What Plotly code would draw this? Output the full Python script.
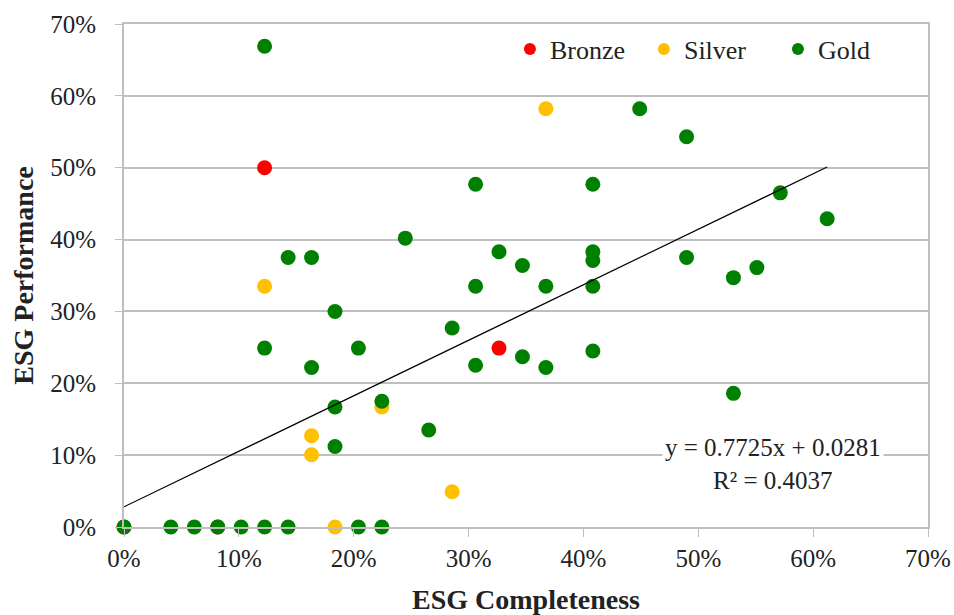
import plotly.graph_objects as go

# ---- data (fractions) ----
bronze_x = [0.1224, 0.3265, 0.0, 0.0816]
bronze_y = [0.500, 0.249, 0.0, 0.0]

silver_x = [0.3673, 0.1224, 0.2245, 0.1633, 0.1633, 0.2857, 0.1837]
silver_y = [0.582, 0.335, 0.167, 0.127, 0.1005, 0.049, 0.0]

gold_x = [0.1224, 0.2449, 0.1429, 0.1633, 0.4490, 0.4898, 0.3061, 0.4082,
          0.3265, 0.4082, 0.4082, 0.3469, 0.4898, 0.5714, 0.6122, 0.5510,
          0.1837, 0.1224, 0.2041, 0.1633, 0.1837, 0.2245, 0.1837, 0.3061,
          0.3673, 0.4082, 0.2857, 0.3469, 0.4082, 0.3061, 0.3673, 0.2653,
          0.5306, 0.5306,
          0.0, 0.0408, 0.0612, 0.0816, 0.1020, 0.1224, 0.1429, 0.2041, 0.2245]
gold_y = [0.669, 0.402, 0.375, 0.375, 0.582, 0.543, 0.477, 0.477,
          0.383, 0.383, 0.371, 0.364, 0.375, 0.465, 0.429, 0.361,
          0.300, 0.249, 0.249, 0.222, 0.167, 0.175, 0.112, 0.335,
          0.335, 0.335, 0.277, 0.237, 0.245, 0.225, 0.222, 0.135,
          0.347, 0.186,
          0.0, 0.0, 0.0, 0.0, 0.0, 0.0, 0.0, 0.0, 0.0]

trend_slope = 0.7725
trend_intercept = 0.0281
trend_r2 = 0.4037

tick_vals = [0, 0.1, 0.2, 0.3, 0.4, 0.5, 0.6, 0.7]
tick_text = ["0%", "10%", "20%", "30%", "40%", "50%", "60%", "70%"]

FONT = "Liberation Serif, Times New Roman, serif"
GRID = "#BFBFBF"
TXT = "#222222"

fig = go.Figure()
for name, xs, ys, col in [("Bronze", bronze_x, bronze_y, "#FF0000"),
                          ("Silver", silver_x, silver_y, "#FFC000"),
                          ("Gold", gold_x, gold_y, "#008000")]:
    fig.add_trace(go.Scatter(x=xs, y=ys, mode="markers", name=name,
                             marker=dict(color=col, size=15, line=dict(width=0)),
                             cliponaxis=False))

all_x = bronze_x + silver_x + gold_x
x0, x1 = min(all_x), max(all_x)
fig.add_trace(go.Scatter(x=[x0, x1],
                         y=[trend_slope * x0 + trend_intercept, trend_slope * x1 + trend_intercept],
                         mode="lines", line=dict(color="black", width=1.2),
                         showlegend=False, hoverinfo="skip"))

fig.add_annotation(x=0.565, y=0.088, xref="x", yref="y",
                   text=f"y = {trend_slope}x + {trend_intercept}<br>R² = {trend_r2}",
                   showarrow=False, bgcolor="white", borderpad=2,
                   font=dict(family=FONT, size=25, color=TXT))

fig.update_layout(
    width=954, height=615,
    margin=dict(l=124, r=26, t=24, b=88, autoexpand=False),
    plot_bgcolor="white", paper_bgcolor="white",
    font=dict(family=FONT, size=25, color=TXT),
    legend=dict(orientation="h", x=0.48, xanchor="left", y=0.95, yanchor="middle",
                font=dict(family=FONT, size=26, color=TXT),
                bgcolor="rgba(0,0,0,0)", entrywidth=89, entrywidthmode="pixels",
                itemsizing="constant"),
    xaxis=dict(range=[0, 0.7], tickvals=tick_vals, ticktext=tick_text,
               tickfont=dict(family=FONT, size=25, color=TXT),
               showgrid=False, zeroline=False, showline=True, linecolor=GRID,
               linewidth=1.5, mirror=True, ticks="outside", ticklen=8,
               tickcolor=GRID, ticklabelstandoff=0, automargin=False,
               title=dict(text="<b>ESG Completeness</b>", standoff=19,
                          font=dict(family=FONT, size=28, color=TXT))),
    yaxis=dict(range=[0, 0.7], tickvals=tick_vals, ticktext=tick_text,
               tickfont=dict(family=FONT, size=25, color=TXT),
               showgrid=True, gridcolor=GRID, gridwidth=1.5, zeroline=False,
               showline=True, linecolor=GRID, linewidth=2, mirror=True,
               ticks="outside", ticklen=7, tickcolor=GRID, ticklabelstandoff=14,
               automargin=False,
               title=dict(text="<b>ESG Performance</b>", standoff=8,
                          font=dict(family=FONT, size=28, color=TXT))),
)

fig.write_html("out.html",
               config={"displayModeBar": False},
               post_script="document.body.style.margin='0';"
                           "document.documentElement.style.overflow='hidden';")
